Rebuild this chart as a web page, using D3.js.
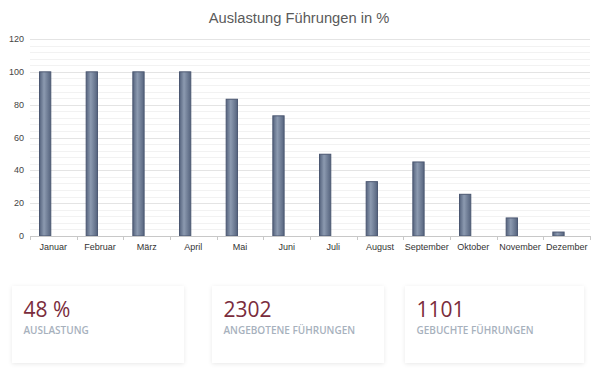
<!DOCTYPE html>
<html>
<head>
<meta charset="utf-8">
<script src="https://cdn.jsdelivr.net/npm/d3@7"></script>
<style>
  html, body { margin: 0; padding: 0; background: #fff; }
  svg { display: block; }
</style>
</head>
<body>
<svg id="chart" width="600" height="374"></svg>
<script>
// Chart data
const months = ["Januar", "Februar", "März", "April", "Mai", "Juni", "Juli",
  "August", "September", "Oktober", "November", "Dezember"];
const auslastung = [100, 100, 100, 100, 83.3, 73.2, 49.8, 33.1, 45.1, 25.4, 11, 2.4];
const yTicks = [0, 20, 40, 60, 80, 100, 120];

// Summary cards
const cardValues = ["48 %", "2302", "1101"];
const cardLabels = ["AUSLASTUNG", "ANGEBOTENE FÜHRUNGEN", "GEBUCHTE FÜHRUNGEN"];

const svg = d3.select("#chart");
const plot = { left: 30, right: 590, top: 39, bottom: 236 };
// card boxes (layout, left/right edges)
const cardBoxes = [[12, 184], [212, 384], [405, 584]];

const defs = svg.append("defs");
const grad = defs.append("linearGradient").attr("id", "barGrad")
  .attr("x1", "0%").attr("x2", "100%").attr("y1", "0%").attr("y2", "0%");
grad.append("stop").attr("offset", "0%").attr("stop-color", "#56647e");
grad.append("stop").attr("offset", "40%").attr("stop-color", "#8c9ab0");
grad.append("stop").attr("offset", "100%").attr("stop-color", "#56647e");

const shadow = defs.append("filter").attr("id", "cardShadow")
  .attr("x", "-10%").attr("y", "-10%").attr("width", "120%").attr("height", "130%");
shadow.append("feDropShadow").attr("dx", 0).attr("dy", 1).attr("stdDeviation", 2)
  .attr("flood-color", "#000").attr("flood-opacity", 0.09);

// Title
svg.append("text")
  .attr("x", 299).attr("y", 23)
  .attr("text-anchor", "middle")
  .style("font-family", "'Liberation Sans', Arial, sans-serif")
  .style("font-size", "14.7px")
  .style("fill", "#5a5a5a")
  .text("Auslastung Führungen in %");

// Scales
const x = d3.scaleBand().domain(months).range([plot.left, plot.right]);
// second (empty) series slot keeps the bars on the left of each category
const xInner = d3.scaleBand().domain(["a", "b"]).range([0, x.bandwidth()])
  .paddingInner(0.25).paddingOuter(0.55);
const y = d3.scaleLinear().domain([0, 120]).range([plot.bottom, plot.top]);

// Grid: minor then major
const grid = svg.append("g");
grid.selectAll(".minor")
  .data(d3.range(0, 121, 4).filter(v => v % 20 !== 0))
  .enter().append("line")
  .attr("x1", plot.left).attr("x2", plot.right)
  .attr("y1", d => Math.round(y(d)) + 0.5).attr("y2", d => Math.round(y(d)) + 0.5)
  .attr("stroke", "#f2f2f2");
grid.selectAll(".major")
  .data(yTicks.filter(v => v > 0))
  .enter().append("line")
  .attr("x1", plot.left).attr("x2", plot.right)
  .attr("y1", d => Math.round(y(d)) + 0.5).attr("y2", d => Math.round(y(d)) + 0.5)
  .attr("stroke", "#e4e4e4");

// Y labels
svg.append("g").selectAll("text")
  .data(yTicks)
  .enter().append("text")
  .attr("x", 24).attr("y", d => y(d) + 3)
  .attr("text-anchor", "end")
  .style("font-family", "'Liberation Sans', Arial, sans-serif")
  .style("font-size", "9px")
  .style("fill", "#444")
  .text(d => d);

// Bars
svg.append("g").selectAll("rect")
  .data(auslastung)
  .enter().append("rect")
  .attr("x", (d, i) => x(months[i]) + xInner("a") + 0.5)
  .attr("y", d => y(d))
  .attr("width", xInner.bandwidth() - 1)
  .attr("height", d => plot.bottom - y(d))
  .attr("fill", "url(#barGrad)")
  .attr("stroke", "#4b5771")
  .attr("stroke-width", 1);

// X axis
const xAxis = svg.append("g");
xAxis.append("line")
  .attr("x1", plot.left).attr("x2", plot.right)
  .attr("y1", plot.bottom + 0.5).attr("y2", plot.bottom + 0.5)
  .attr("stroke", "#c8c8c8");
xAxis.selectAll(".tick")
  .data(months.map(m => x(m)).concat([plot.right]))
  .enter().append("line")
  .attr("x1", d => Math.round(d) + 0.5).attr("x2", d => Math.round(d) + 0.5)
  .attr("y1", plot.bottom).attr("y2", plot.bottom + 4)
  .attr("stroke", "#c8c8c8");
xAxis.selectAll("text")
  .data(months)
  .enter().append("text")
  .attr("x", d => x(d) + x.bandwidth() / 2)
  .attr("y", 250)
  .attr("text-anchor", "middle")
  .style("font-family", "'Liberation Sans', Arial, sans-serif")
  .style("font-size", "9px")
  .style("fill", "#333")
  .text(d => d);

// Cards
const cards = svg.append("g").selectAll("g")
  .data(cardValues)
  .enter().append("g")
  .attr("transform", (d, i) => `translate(${cardBoxes[i][0]},286)`);
cards.append("rect")
  .attr("width", (d, i) => cardBoxes[i][1] - cardBoxes[i][0]).attr("height", 77)
  .attr("fill", "#fff")
  .attr("filter", "url(#cardShadow)");
cards.append("text")
  .attr("x", 11.5).attr("y", 31)
  .style("font-family", "'Open Sans', sans-serif")
  .style("font-size", "21px")
  .style("fill", "#7a2c3c")
  .text(d => d);
cards.append("text")
  .attr("x", 11.5).attr("y", 47.5)
  .style("font-family", "'Open Sans', sans-serif")
  .style("font-size", "10px")
  .style("font-weight", 600)
  .style("fill", "#a7b1bd")
  .text((d, i) => cardLabels[i]);
</script>
</body>
</html>
